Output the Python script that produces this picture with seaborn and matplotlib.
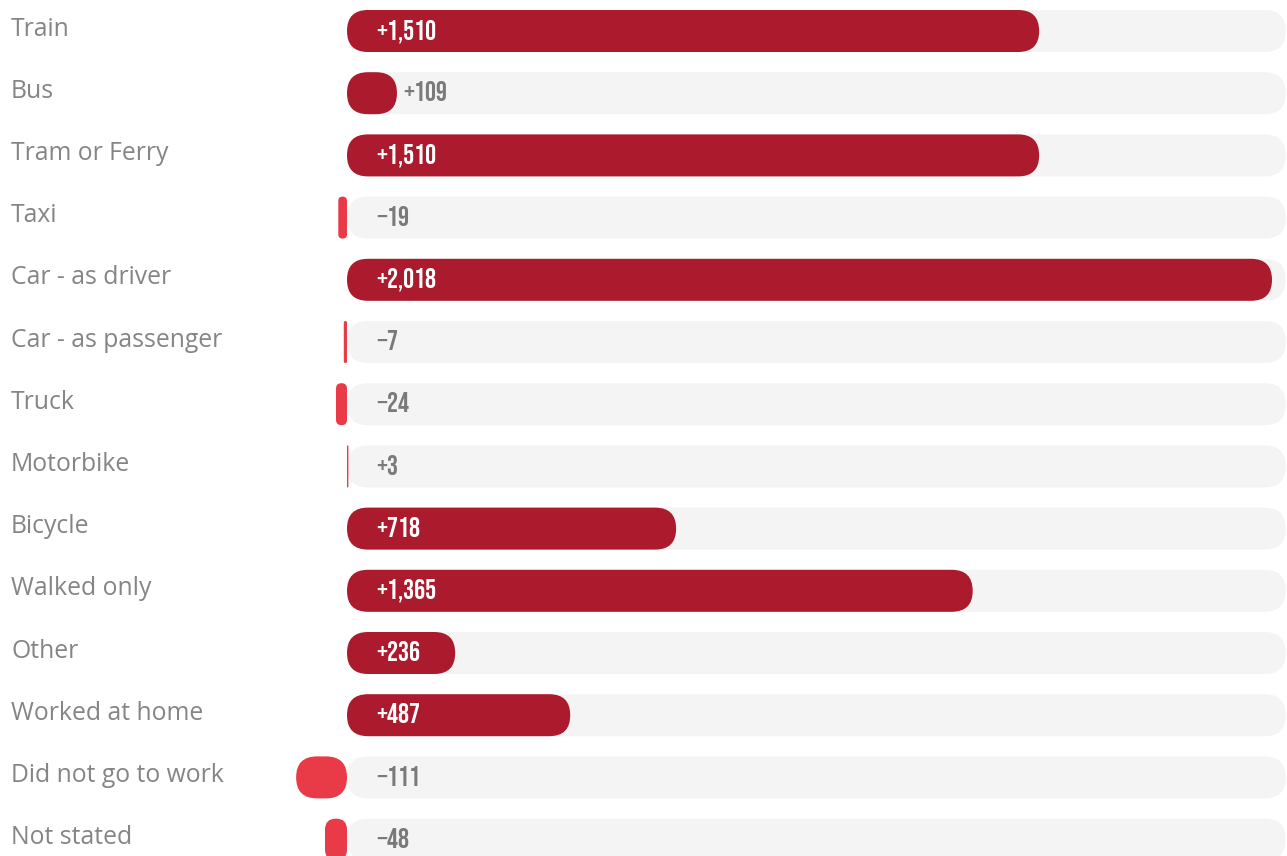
import numpy as np
import pandas as pd
import matplotlib
matplotlib.use("Agg")
import matplotlib.pyplot as plt
import matplotlib.transforms as mtransforms
from matplotlib.patches import FancyBboxPatch
import seaborn as sns

# ---- data ----
modes = ["Train", "Bus", "Tram or Ferry", "Taxi", "Car - as driver",
         "Car - as passenger", "Truck", "Motorbike", "Bicycle", "Walked only",
         "Other", "Worked at home", "Did not go to work", "Not stated"]
changes = [1510, 109, 1510, -19, 2018, -7, -24, 3, 718, 1365, 236, 487, -111, -48]
track_max = 2048

# ---- style ----
sns.set_theme(style="white")
DARK = "#ab1a2d"
LIGHT = "#e83a47"
TRACK = "#f4f4f4"
LABEL_GRAY = "#858585"
VALUE_GRAY = "#7a7a7a"

W, H = 1287, 856
fig = plt.figure(figsize=(W / 100, H / 100), dpi=100)
ax = fig.add_axes([0, 0, 1, 1])

df = pd.DataFrame({"mode": modes, "change": changes,
                   "track": [track_max] * len(modes),
                   "size": ["big" if c >= 100 else "small" for c in changes]})

bar_w = 42 / 62.2
sns.barplot(data=df, y="mode", x="track", color=TRACK, width=bar_w,
            saturation=1, ax=ax, orient="h")
sns.barplot(data=df, y="mode", x="change", hue="size",
            palette={"big": DARK, "small": LIGHT}, width=bar_w, saturation=1,
            dodge=False, legend=False, ax=ax, orient="h")

zero_px = 347
px_per_unit = (1272 - zero_px) / 2018
xlim = (-zero_px / px_per_unit, (W - zero_px) / px_per_unit)
row_px = 62.2
first_px = 31
ylim = ((H - first_px) / row_px, -first_px / row_px)
ax.set_xlim(*xlim)
ax.set_ylim(*ylim)
px_x = W / (xlim[1] - xlim[0])
px_y = H / (ylim[0] - ylim[1])

# replace rectangles with rounded pills
for p in list(ax.patches):
    x, y = p.get_x(), p.get_y()
    w, h = p.get_width(), p.get_height()
    if w < 0:
        x, w = x + w, -w
    if w == 0:
        continue
    color = p.get_facecolor()
    z = p.get_zorder()
    p.remove()
    w_px = w * px_x
    h_px = abs(h) * px_y
    r_px = min(21, w_px / 2, h_px / 2)
    fb = FancyBboxPatch((x, y), w, h,
                        boxstyle=f"round,pad=0,rounding_size={r_px / px_x}",
                        mutation_aspect=px_x / px_y,
                        facecolor=color, edgecolor="none", zorder=z)
    ax.add_patch(fb)

# category labels
trans = mtransforms.blended_transform_factory(ax.transAxes, ax.transData)
for i, m in enumerate(modes):
    ax.text(11 / W, i - 0.03, m, transform=trans, ha="left", va="center",
            fontsize=17.8, color=LABEL_GRAY, fontweight=400,
            family=["Open Sans", "DejaVu Sans"])

# value labels
for i, v in enumerate(changes):
    txt = f"{v:+,}"
    txt = txt.replace("-", "\u2212") if v < 0 else txt
    if v > 0 and v * px_per_unit > 80:
        lx, col = 29 / px_per_unit, "white"
    elif v > 0:
        lx, col = max(29 / px_per_unit, v + 6 / px_per_unit), VALUE_GRAY
    else:
        lx, col = 29 / px_per_unit, VALUE_GRAY
    ax.text(lx, i - 0.03, txt, ha="left", va="center_baseline", fontsize=19.8,
            color=col, family=["Bebas Neue", "Oswald", "DejaVu Sans"])

ax.set_axis_off()
fig.savefig("out.png", dpi=100)
